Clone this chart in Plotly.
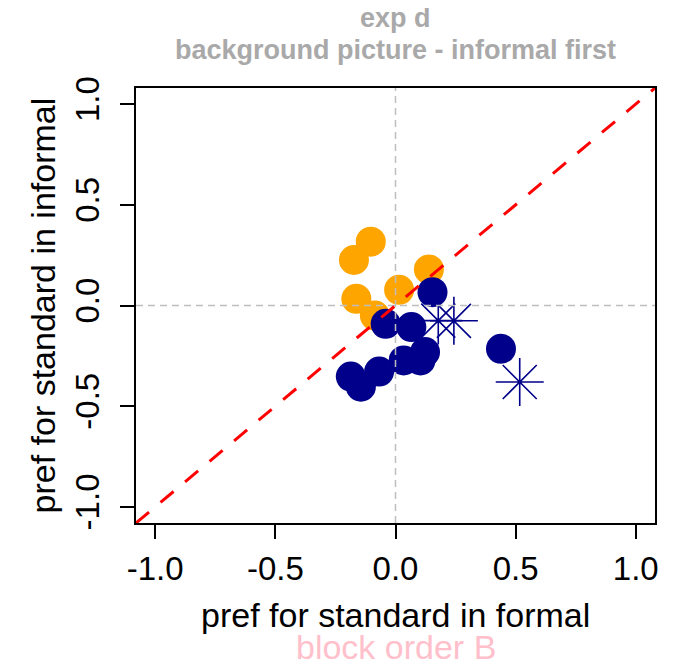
import plotly.graph_objects as go

# ---- data ----
orange_x = [-0.103, -0.173, -0.163, 0.015, 0.139, -0.086]
orange_y = [0.317, 0.226, 0.033, 0.078, 0.179, -0.050]

navy_x = [0.154, -0.041, 0.066, 0.123, 0.104, 0.034, -0.186, -0.144, -0.068, 0.439]
navy_y = [0.066, -0.091, -0.107, -0.231, -0.273, -0.273, -0.353, -0.403, -0.328, -0.215]

star_x = [0.178, 0.243, 0.517]
star_y = [-0.075, -0.076, -0.380]

tick_vals = [-1.0, -0.5, 0.0, 0.5, 1.0]
tick_text = ["-1.0", "-0.5", "0.0", "0.5", "1.0"]

title_line1 = "exp d"
title_line2 = "background picture - informal first"
x_title = "pref for standard in formal"
y_title = "pref for standard in informal"
sub_title = "block order B"

FONT = "Liberation Sans, Arial, sans-serif"
NAVY = "#00008B"
ORANGE = "#FFA500"

fig = go.Figure()
fig.add_trace(go.Scatter(x=orange_x, y=orange_y, mode="markers",
                         marker=dict(symbol="circle", size=30, color=ORANGE, line=dict(width=0)),
                         showlegend=False, hoverinfo="skip"))
fig.add_trace(go.Scatter(x=navy_x, y=navy_y, mode="markers",
                         marker=dict(symbol="circle", size=30, color=NAVY, line=dict(width=0)),
                         showlegend=False, hoverinfo="skip"))
fig.add_trace(go.Scatter(x=star_x, y=star_y, mode="markers",
                         marker=dict(symbol="asterisk-open", size=40, color=NAVY,
                                     line=dict(width=1.6, color=NAVY)),
                         showlegend=False, hoverinfo="skip"))

R = 1.08
# reference lines (drawn above points)
fig.add_shape(type="line", x0=0, x1=0, y0=-R, y1=R, xref="x", yref="y", layer="above",
              line=dict(color="#BEBEBE", width=1.5, dash="7px,5px"))
fig.add_shape(type="line", x0=-R, x1=R, y0=0, y1=0, xref="x", yref="y", layer="above",
              line=dict(color="#BEBEBE", width=1.5, dash="7px,5px"))
fig.add_shape(type="line", x0=-R, x1=R, y0=-R, y1=R, xref="x", yref="y", layer="above",
              line=dict(color="#FF0000", width=3, dash="17px,15px"))

axis_common = dict(range=[-R, R], tickvals=tick_vals, ticktext=tick_text,
                   showgrid=False, zeroline=False, showline=True, mirror=True,
                   linecolor="black", linewidth=1.5, ticks="outside", ticklen=14,
                   tickwidth=1.5, tickcolor="black", automargin=False,
                   tickfont=dict(family=FONT, size=33, color="black"))

# the page body adds an 8px offset; the figure is sized so the plot box lands
# at page x 136..655, y 88..523
fig.update_layout(
    width=665, height=657,
    margin=dict(l=128, r=18, t=80, b=142, autoexpand=False),
    plot_bgcolor="white", paper_bgcolor="white",
    xaxis=dict(**axis_common, ticklabelstandoff=2),
    yaxis=dict(**axis_common, tickangle=-90, ticklabelstandoff=8),
)

ann = []
ann.append(dict(text="<b>%s</b>" % title_line1, x=0.5, y=(523 - 18) / 435, xref="paper", yref="paper",
                xanchor="center", yanchor="middle", showarrow=False,
                font=dict(family=FONT, size=27, color="#A9A9A9")))
ann.append(dict(text="<b>%s</b>" % title_line2, x=0.5, y=(523 - 50) / 435, xref="paper", yref="paper",
                xanchor="center", yanchor="middle", showarrow=False,
                font=dict(family=FONT, size=27, color="#A9A9A9")))
ann.append(dict(text=x_title, x=0.5, y=(523 - 615) / 435, xref="paper", yref="paper",
                xanchor="center", yanchor="middle", showarrow=False,
                font=dict(family=FONT, size=34, color="black")))
ann.append(dict(text=sub_title, x=0.5, y=(523 - 647) / 435, xref="paper", yref="paper",
                xanchor="center", yanchor="middle", showarrow=False,
                font=dict(family=FONT, size=34, color="#FFC0CB")))
ann.append(dict(text=y_title, x=(42 - 136) / 519, y=0.5, xref="paper", yref="paper",
                xanchor="center", yanchor="middle", showarrow=False, textangle=-90,
                font=dict(family=FONT, size=34, color="black")))
fig.update_layout(annotations=ann)

fig.write_html("out.html")
